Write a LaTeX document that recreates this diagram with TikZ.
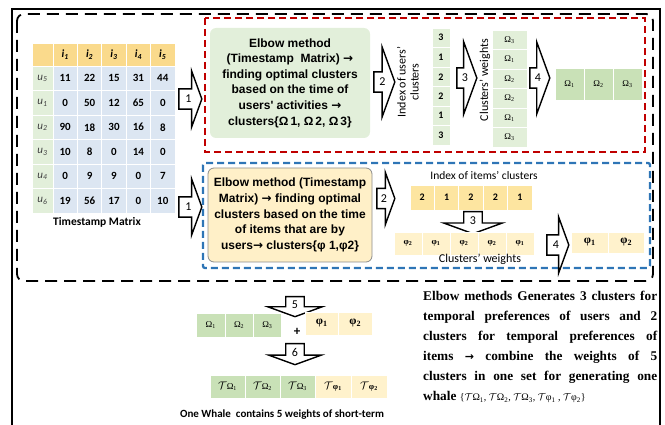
\documentclass[tikz,border=0pt]{standalone}
\usepackage{fontspec}
\setmainfont{Carlito}
\newfontfamily\arialfont{Liberation Sans}
\newfontfamily\timesfont{Liberation Serif}
\newfontfamily\dejafont{DejaVu Sans}
\usetikzlibrary{shapes.arrows}

\definecolor{hdrorange}{HTML}{FADA8C}
\definecolor{lblgreen}{HTML}{E2EFDA}
\definecolor{datblue}{HTML}{DCE6F2}
\definecolor{idxgreen}{HTML}{E2EFD9}
\definecolor{outgreen}{HTML}{C9E1B7}
\definecolor{idxyellow}{HTML}{FDE5A0}
\definecolor{wgtyellow}{HTML}{FFF2CC}
\definecolor{boxgreen}{HTML}{E2EFDA}
\definecolor{boxyellow}{HTML}{FFF0C8}
\definecolor{darkred}{HTML}{C00000}
\definecolor{midblue}{HTML}{2E75B6}

\newcommand{\Om}[1]{{\timesfont\fontsize{9}{10}\selectfont Ω\textsubscript{#1}}}
\newcommand{\Ph}[1]{{\timesfont\bfseries\fontsize{11.5}{12}\selectfont φ\textsubscript{#1}}}
\newcommand{\Phs}[1]{{\timesfont\bfseries\fontsize{8.5}{10}\selectfont φ\textsubscript{#1}}}
\newcommand{\Tcal}{$\mathcal{T}$}
\newcommand{\rarr}{{\dejafont\bfseries →}}

\tikzset{
  cell/.style={fill=#1, draw=white, line width=0.8pt, inner sep=0pt,
    font=\fontsize{11}{13}\selectfont},
  blockarrow/.style={single arrow, draw=black, line width=1.4pt, fill=white,
    single arrow tip angle=140, inner xsep=1.5pt, inner ysep=5.5pt,
    single arrow head extend=#1, font=\fontsize{12}{14}\selectfont},
  downarrow/.style={blockarrow=#1, shape border rotate=270,
    inner xsep=5.5pt, inner ysep=1.5pt},
  elbow/.style={rounded corners=6pt, align=center, inner sep=0pt,
    font=\arialfont\bfseries\fontsize{12}{15.6}\selectfont},
  sidelabel/.style={align=center, inner sep=0pt, font=\fontsize{12}{13}\selectfont},
}

\begin{document}
\begin{tikzpicture}[x=1pt, y=-1pt]
\useasboundingbox (0,0) rectangle (665,425);

% frames
\draw[line width=1.2pt] (12,430) -- (12,9) -- (660,9) -- (660,430);
\draw[line width=1.8pt, dash pattern=on 12pt off 7pt, rounded corners=7pt] (17,14) rectangle (653,281);
\draw[darkred, line width=2.3pt, dash pattern=on 7pt off 4pt] (205,18) rectangle (645,152);
\draw[midblue, line width=2.3pt, dash pattern=on 7pt off 4pt, rounded corners=2pt] (203,163) rectangle (650,268);

% timestamp matrix
\node[cell=hdrorange, minimum width=21pt, minimum height=23pt] (corner) at (42.5,54.5) {};
\foreach \col in {1,...,5}
  \node[cell=hdrorange, minimum width=24.4pt, minimum height=23pt, font=\bfseries\itshape\fontsize{11}{13}\selectfont]
    (i\col) at ({40.8+24.4*\col},54.5) {i\textsubscript{\col}};
\foreach \usr/\vals [count=\row] in {5/{11,22,15,31,44},1/{0,50,12,65,0},2/{90,18,30,16,8},
                                     3/{10,8,0,14,0},4/{0,9,9,0,7},6/{19,56,17,0,10}} {
  \node[cell=lblgreen, minimum width=21pt, minimum height=24.5pt, font=\itshape\fontsize{11}{13}\selectfont, text=black!75]
    (u\usr) at (42.5,{53.75+24.5*\row}) {u\textsubscript{\usr}};
  \foreach \val [count=\col] in \vals
    \node[cell=datblue, minimum width=24.4pt, minimum height=24.5pt, font=\bfseries\fontsize{11}{13}\selectfont]
      (m\usr\col) at ({40.8+24.4*\col},{53.75+24.5*\row}) {\val};
}
\node[font=\bfseries\fontsize{11.5}{13}\selectfont] (tsm) at (97,222) {Timestamp Matrix};

% users' part
\node[blockarrow=18pt, minimum height=23pt] (a1u) at (188.5,99) {1};
\node[elbow, fill=boxgreen, minimum width=160pt, minimum height=110pt] (elbowu) at (290,83)
  {Elbow method\\(Timestamp\ \ Matrix) \rarr\\finding optimal clusters\\based on the time of\\users' activities \rarr\\clusters\{Ω\,1, Ω\,2, Ω\,3\}};
\node[blockarrow=25pt, minimum height=21pt] (a2u) at (382.5,82) {2};
\node[sidelabel, rotate=90] (idxu) at (408,82) {Index of users'\\clusters};
\foreach \val [count=\row] in {3,1,2,2,1,3}
  \node[cell=idxgreen, minimum width=18pt, minimum height=19.5pt, font=\bfseries\fontsize{10}{12}\selectfont]
    (iu\row) at (441,{18.25+19.5*\row}) {\val};
\node[blockarrow=26pt, minimum height=20pt] (a3u) at (465,78) {3};
\node[sidelabel, rotate=90] (wgtu) at (485,80) {Clusters' weights};
\foreach \val [count=\row] in {3,1,2,2,1,3}
  \node[cell=idxgreen, minimum width=35pt, minimum height=19.5pt] (wu\row) at (509.5,{20.25+19.5*\row}) {\Om{\val}};
\node[blockarrow=26pt, minimum height=20pt] (a4u) at (538,78) {4};
\foreach \val [count=\col] in {1,2,3}
  \node[cell=outgreen, minimum width=29pt, minimum height=32pt] (ou\col) at ({540.5+29*\col},84) {\Om{\val}};

% items' part
\node[blockarrow=18pt, minimum height=23pt] (a1i) at (188.5,207) {1};
\node[elbow, fill=boxyellow, draw=black!45, line width=0.8pt, minimum width=164pt, minimum height=94pt] (elbowi) at (290,215)
  {Elbow method (Timestamp\\Matrix) \rarr\ finding optimal\\clusters based on the time\\of items that are by\\users\rarr\ clusters\{φ 1,φ2\}};
\node[blockarrow=16pt, minimum height=18pt] (a2i) at (384,198.5) {2};
\node[inner sep=0pt, font=\fontsize{11.5}{13}\selectfont] (idxi) at (484,175) {Index of items' clusters};
\foreach \val [count=\col] in {2,1,2,2,1}
  \node[cell=idxyellow, minimum width=24.4pt, minimum height=25pt, font=\bfseries\fontsize{10}{12}\selectfont]
    (ii\col) at ({397.8+24.4*\col},197.5) {\val};
\node[downarrow=20pt, minimum height=22pt] (a3i) at (473,221) {3};
\foreach \val [count=\col] in {2,1,2,2,1}
  \node[cell=wgtyellow, minimum width=28pt, minimum height=23pt] (wi\col) at ({380+28*\col},243.5) {\Phs{\val}};
\node[inner sep=0pt, font=\fontsize{12}{13}\selectfont] (wgti) at (480,259) {Clusters' weights};
\node[blockarrow=18pt, minimum height=22pt] (a4i) at (556,245) {4};
\foreach \val [count=\col] in {1,2}
  \node[cell=wgtyellow, minimum width=36.5pt, minimum height=21pt] (oi\col) at ({553.25+36.5*\col},242.5) {\Ph{\val}};

% combining
\node[downarrow=18pt, minimum height=20pt] (a5) at (295,305) {5};
\foreach \val [count=\col] in {1,2,3}
  \node[cell=outgreen, minimum width=28.3pt, minimum height=24pt] (cu\col) at ({182.5+28.3*\col},325) {\Om{\val}};
\node[font=\bfseries\fontsize{13}{14}\selectfont] (plus) at (297,332) {+};
\foreach \val [count=\col] in {1,2}
  \node[cell=wgtyellow, minimum width=33.5pt, minimum height=23pt] (ci\col) at ({288.25+33.5*\col},323.5) {\Ph{\val}};
\node[downarrow=17pt, minimum height=21pt] (a6) at (295,352.5) {6};
\foreach \val [count=\col] in {1,2,3}
  \node[cell=outgreen, minimum width=35pt, minimum height=23pt] (tu\col) at ({192.5+35*\col},386.5) {\Tcal\Om{\val}};
\foreach \val [count=\col] in {1,2}
  \node[cell=wgtyellow, minimum width=36pt, minimum height=23pt] (ti\col) at ({297+36*\col},386.5) {\Tcal\Phs{\val}};
\node[font=\bfseries\fontsize{11}{13}\selectfont] (whale) at (282,415) {One Whale\ \ contains 5 weights of short-term};

% summary
\node[anchor=north west, inner sep=0pt, align=left, font=\timesfont\bfseries\fontsize{13.3}{20}\selectfont] (summary) at (423,291)
  {\makebox[234pt][s]{Elbow methods Generates 3 clusters for}\\
   \makebox[234pt][s]{temporal preferences of users and 2}\\
   \makebox[234pt][s]{clusters for temporal preferences of}\\
   \makebox[234pt][s]{items {\fontsize{11}{12}\selectfont\rarr} combine the weights of 5}\\
   \makebox[234pt][s]{clusters in one set for generating one}\\
   whale {\mdseries\fontsize{10}{11}\selectfont\{\Tcal Ω\textsubscript{1}, \Tcal Ω\textsubscript{2}, \Tcal Ω\textsubscript{3}, \Tcal φ\textsubscript{1} , \Tcal φ\textsubscript{2}\}}};

\end{tikzpicture}
\end{document}
